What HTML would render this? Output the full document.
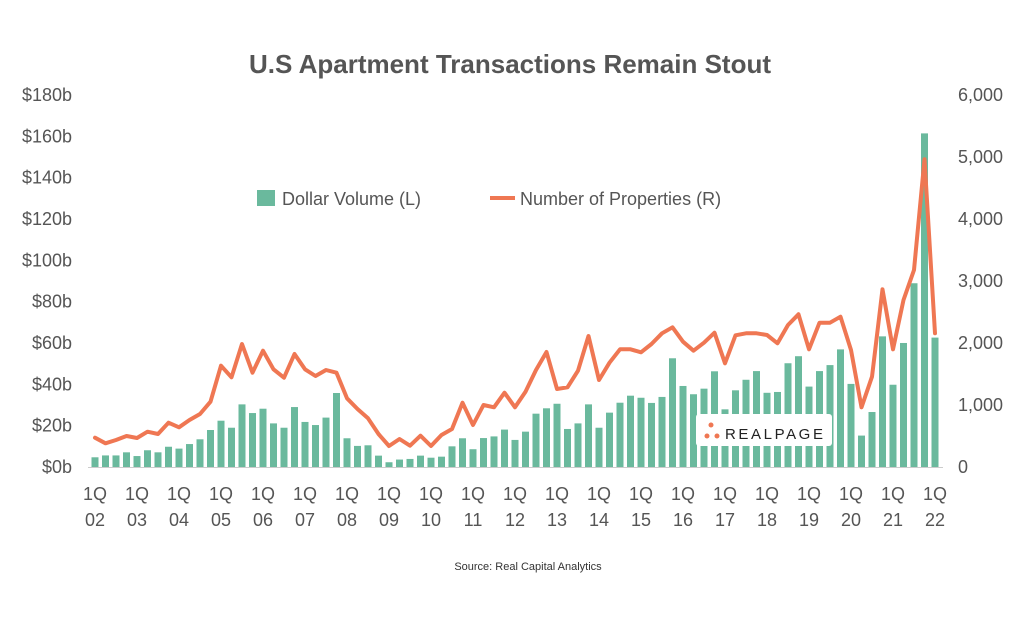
<!DOCTYPE html>
<html><head><meta charset="utf-8"><style>
body{margin:0;background:#fff;}
svg text{font-family:"Liberation Sans",sans-serif;fill:#555;}
</style></head><body>
<svg id="c" width="1020" height="633" xmlns="http://www.w3.org/2000/svg">
<rect width="1020" height="633" fill="#fff"/>
<text x="510" y="73" text-anchor="middle" font-size="26" font-weight="bold" fill="#5a5a5a">U.S Apartment Transactions Remain Stout</text>
<g id="bars"></g>
<line x1="88" y1="467.5" x2="943" y2="467.5" stroke="#ccc" stroke-width="1"/>
<polyline id="ln" fill="none" stroke="#ef7753" stroke-width="4" stroke-linejoin="round" stroke-linecap="round"/>
<g id="ax" font-size="18"></g>
<rect x="257" y="190" width="18" height="16" fill="#6ab99d"/>
<text x="282" y="205" font-size="18">Dollar Volume (L)</text>
<line x1="490" y1="198" x2="515" y2="198" stroke="#ef7753" stroke-width="4"/>
<text x="520" y="205" font-size="18">Number of Properties (R)</text>
<rect x="696" y="414" width="136" height="32" fill="#fff" rx="3"/>
<circle cx="711" cy="425" r="2.5" fill="#ef7753"/><circle cx="707" cy="436" r="2.5" fill="#ef7753"/><circle cx="717" cy="436" r="2.5" fill="#ef7753"/>
<text x="725" y="439" font-size="15" letter-spacing="2.6" style="fill:#222">REALPAGE</text>
<text x="528" y="570" text-anchor="middle" font-size="11" style="fill:#333">Source: Real Capital Analytics</text>
</svg>
<script>
var v=[4.7,5.6,5.6,7.1,5.3,8.1,7.1,9.8,8.9,11.1,13.4,17.9,22.4,19,30.3,26.1,28.2,21.1,19,29,21.8,20.3,23.9,35.8,13.9,10.2,10.5,5.5,2.3,3.6,3.9,5.5,4.5,5,10,13.9,8.6,14,14.8,18.1,13.1,17.1,25.8,28.4,30.6,18.4,21.1,30.3,19,26.3,31.1,34.5,33.5,31,33.9,52.6,39.2,35.2,37.9,46.3,27.9,37.1,42.2,46.4,35.9,36.3,50.2,53.6,38.9,46.4,49.3,56.9,40.2,15.2,26.6,63.2,39.8,60,88.9,161.4,62.6];
var l=[437.7,443.3,440,436,438,431.7,434,422.7,427.3,420,414,401.7,365.7,377.3,344,372.7,350.7,369.3,377.7,354,369.3,376,370,372.7,398.3,409,418.3,434,446,439,445.7,435.7,446,435,429,402.7,425,405,407.3,392.7,407.3,391.7,370,352,389,387.3,370.7,336,380,362.7,349.3,349.3,352.3,344,333.3,327.3,341.7,350.7,342.7,332.7,363.3,335.3,333.3,333.3,335,343.3,325,314.3,349.3,322.7,322.7,316.7,350,407.3,376.7,289.3,349.3,300,270,159.3,333.3];
var ns="http://www.w3.org/2000/svg",b=document.getElementById('bars'),pts=[];
for(var i=0;i<v.length;i++){var x=95+i*10.5,h=v[i]*2.067;var r=document.createElementNS(ns,'rect');
r.setAttribute('x',x-3.5);r.setAttribute('y',467-h);r.setAttribute('width',7);r.setAttribute('height',h);r.setAttribute('fill','#6ab99d');b.appendChild(r);pts.push(x+','+l[i]);}
document.getElementById('ln').setAttribute('points',pts.join(' '));
var ax=document.getElementById('ax'),s='';
for(var k=0;k<=9;k++){var y=467-k*41.33+6;s+='<text x="72" y="'+y+'" text-anchor="end">$'+(k*20)+'b</text>';}
var R=['0','1,000','2,000','3,000','4,000','5,000','6,000'];
for(var k=0;k<=6;k++){var y=467-k*62+6;s+='<text x="958" y="'+y+'">'+R[k]+'</text>';}
for(var q=0;q<=20;q++){var x=95+q*42;var yy=(q+2<10?'0':'')+(q+2);s+='<text x="'+x+'" y="500" text-anchor="middle">1Q</text><text x="'+x+'" y="526" text-anchor="middle">'+yy+'</text>';}
ax.innerHTML=s;
</script>
</body></html>
